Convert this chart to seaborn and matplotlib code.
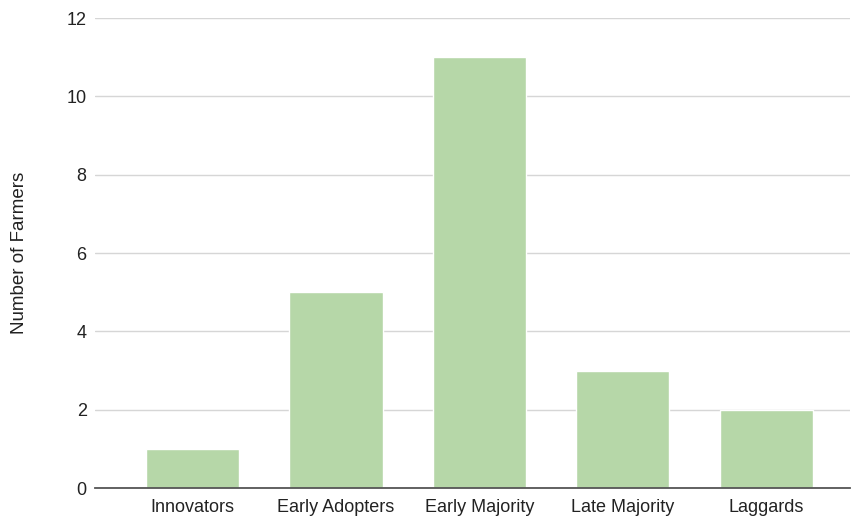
import matplotlib
matplotlib.use("Agg")
import matplotlib.pyplot as plt
import seaborn as sns
import pandas as pd

# Chart data
categories = ["Innovators", "Early Adopters", "Early Majority", "Late Majority", "Laggards"]
farmers = [1, 5, 11, 3, 2]

sns.set_theme(style="white")
plt.rcParams["font.family"] = ["Liberation Sans", "DejaVu Sans"]

df = pd.DataFrame({"Category": categories, "Farmers": farmers})

fig = plt.figure(figsize=(8.56, 5.17), dpi=100)
ax = fig.add_axes([0.111, 0.056, 0.882, 0.909])

sns.barplot(data=df, x="Category", y="Farmers", color="#b6d7a8",
            saturation=1, width=0.65, ax=ax, zorder=2)

ax.set_ylim(0, 12)
ax.set_yticks(range(0, 13, 2))
ax.set_xlim(-0.68, 4.585)
ax.yaxis.grid(True, color="#d6d6d6", linewidth=1, zorder=0)
ax.set_axisbelow(True)

for side in ["top", "right", "left"]:
    ax.spines[side].set_visible(False)
ax.spines["bottom"].set_color("#555555")
ax.spines["bottom"].set_linewidth(1.3)
ax.spines["bottom"].set_zorder(3)

ax.tick_params(axis="both", length=0, labelsize=13, colors="#222222")
ax.tick_params(axis="y", pad=6)
ax.tick_params(axis="x", pad=8)
ax.set_xlabel("")
ax.set_ylabel("Number of Farmers", fontsize=13.5, color="#222222")
ax.yaxis.set_label_coords(-0.089, 0.5)

fig.savefig("out.png", dpi=100)
